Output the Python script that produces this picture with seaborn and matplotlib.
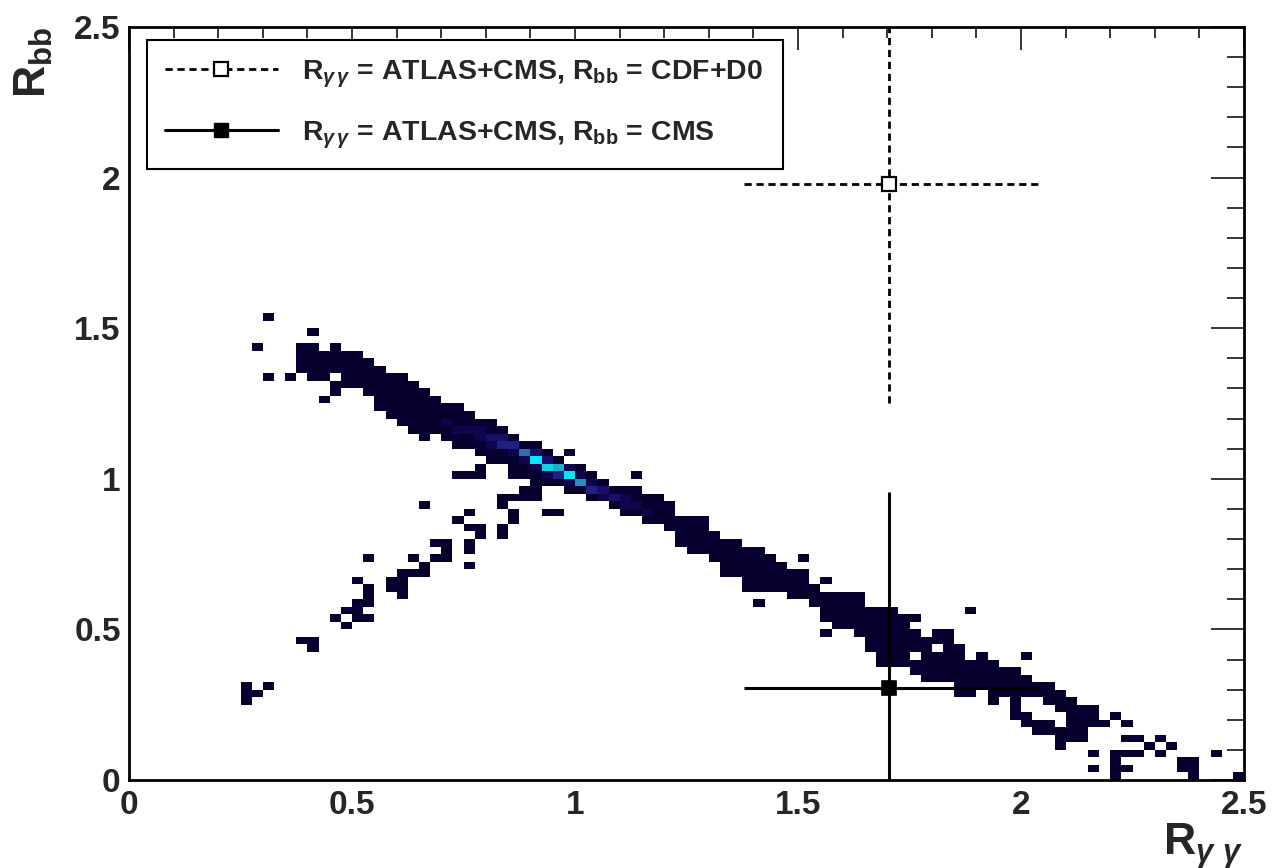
import numpy as np
import pandas as pd
import matplotlib
matplotlib.use("Agg")
import matplotlib.pyplot as plt
import seaborn as sns
from matplotlib.colors import LinearSegmentedColormap
from matplotlib.lines import Line2D
from matplotlib.ticker import MultipleLocator

# ---------------------------------------------------------------------------
# Scan of (R_gg, R_bb) values, binned in 0.025 x 0.025 cells (100 x 100 grid)
# ---------------------------------------------------------------------------
BIN = 0.025
N_BINS = 100

# Main diagonal band: for each R_gg bin, the lowest / highest filled R_bb bin
band_ix = list(range(15, 89))
band_lo = [54, 53, 53, 51, 52, 52, 51, 49, 48, 47,
           46, 45, 46, 45, 44, 44, 43, 42, 42, 40,
           40, 37, 39, 39, 38, 38, 37, 37, 36, 35,
           35, 34, 34, 33, 31, 30, 30, 29, 27, 27,
           25, 25, 25, 25, 24, 24, 23, 21, 20, 20,
           19, 17, 15, 15, 15, 14, 13, 13, 13, 11,
           11, 12, 10, 11, 8, 7, 6, 6, 4, 5,
           5, 7, 7, 8]
band_hi = [57, 57, 56, 57, 56, 56, 55, 54, 53, 53,
           52, 51, 50, 49, 49, 48, 47, 47, 46, 45,
           44, 44, 43, 42, 41, 41, 40, 39, 38, 38,
           38, 37, 37, 36, 34, 34, 34, 32, 31, 31,
           30, 30, 29, 28, 27, 27, 25, 24, 24, 24,
           24, 22, 22, 22, 21, 21, 18, 19, 19, 17,
           15, 16, 15, 14, 14, 13, 12, 12, 11, 10,
           9, 9, 7, 8]

# Empty bins inside the band
hole_ix = [18, 70, 70, 72, 80, 80, 81, 81, 81, 82, 82, 83, 83]
hole_iy = [53, 20, 16, 17, 9, 10, 8, 9, 10, 8, 9, 7, 8]

# Filled bins outside the band (second branch and scattered entries)
extra_ix = [12, 16, 11, 12, 14, 17,
            31, 29, 30, 31, 35, 33, 34, 35, 26, 33, 30, 34, 29, 34,
            30, 31, 33, 31, 33, 27, 28, 30, 28, 30, 21, 25, 27, 28,
            26, 30, 24, 25, 26, 20, 23, 24, 21, 23, 24, 21, 24, 20,
            21, 19, 20, 18, 20, 21, 19, 15, 16, 16, 10, 12, 10, 11, 10,
            39, 45, 37, 38, 60, 62, 56, 62, 75, 80,
            86, 86, 88, 88, 88, 88, 89, 89, 89, 89, 90, 90, 91, 92, 92,
            93, 94, 94, 95, 95, 95, 97, 99]
extra_iy = [61, 59, 57, 53, 53, 50,
            41, 40, 40, 40, 38, 37, 37, 37, 36, 36, 35, 35, 34, 34,
            33, 33, 33, 32, 32, 31, 31, 31, 30, 30, 29, 29, 29, 29,
            28, 28, 27, 27, 27, 26, 26, 26, 25, 25, 25, 24, 24, 23,
            23, 22, 22, 21, 21, 21, 20, 18, 18, 17, 12, 12, 11, 11, 10,
            43, 40, 35, 35, 29, 26, 23, 19, 22, 16,
            3, 1, 0, 1, 2, 3, 7, 5, 3, 1, 5, 3, 4, 5, 3,
            4, 1, 2, 0, 1, 2, 3, 0]

# Bins with more than one entry (the core of the band)
hot_ix = [36, 37, 38, 39, 40, 35, 33, 34, 32, 33, 38, 37, 36, 41, 42, 43,
          35, 36, 37, 39, 40, 41, 39, 42, 44, 44, 45, 46, 31, 30, 29, 28,
          32, 31, 34]
hot_iy = [42, 41, 41, 40, 39, 43, 44, 44, 45, 45, 40, 42, 43, 38, 38, 37,
          42, 41, 40, 41, 40, 39, 39, 37, 37, 36, 36, 35, 46, 46, 46, 47,
          44, 45, 43]
hot_n = [12, 11, 9, 12, 8, 7, 4, 4, 3, 3, 4, 3, 3, 4, 3, 3,
         2, 2, 2, 2, 2, 2, 2, 2, 2, 2, 2, 2, 2, 2, 2, 2,
         2, 2, 2]

# Two measured points: (R_gg, R_bb) with asymmetric errors
pt_rgg = [1.704, 1.704]
pt_rbb = [1.979, 0.305]
pt_rgg_lo = [0.325, 0.325]
pt_rgg_hi = [0.339, 0.339]
pt_rbb_lo = [0.727, 0.652]
pt_rbb_hi = [0.727, 0.652]
pt_labels = [r"$\mathbf{R}_{\gamma\,\gamma}$ = ATLAS+CMS, $\mathbf{R}_{\mathbf{bb}}$ = CDF+D0",
             r"$\mathbf{R}_{\gamma\,\gamma}$ = ATLAS+CMS, $\mathbf{R}_{\mathbf{bb}}$ = CMS"]

tick_vals = [0, 0.5, 1, 1.5, 2, 2.5]
tick_text = ["0", "0.5", "1", "1.5", "2", "2.5"]

# ---------------------------------------------------------------------------
# Assemble the histogram contents
# ---------------------------------------------------------------------------
cells = {}
for i, lo, hi in zip(band_ix, band_lo, band_hi):
    for j in range(lo, hi + 1):
        cells[(i, j)] = 1
for i, j in zip(hole_ix, hole_iy):
    cells.pop((i, j), None)
for i, j in zip(extra_ix, extra_iy):
    cells[(i, j)] = 1
for i, j, n in zip(hot_ix, hot_iy, hot_n):
    cells[(i, j)] = n

scan = pd.DataFrame(
    [((i + 0.5) * BIN, (j + 0.5) * BIN, n) for (i, j), n in cells.items()],
    columns=["R_gg", "R_bb", "entries"],
)

# ---------------------------------------------------------------------------
# Style
# ---------------------------------------------------------------------------
sns.set_theme(style="white")
plt.rcParams["font.family"] = ["Liberation Sans", "DejaVu Sans"]
plt.rcParams["font.weight"] = "bold"
plt.rcParams["mathtext.fontset"] = "custom"
plt.rcParams["mathtext.rm"] = "Liberation Sans:bold"
plt.rcParams["mathtext.bf"] = "Liberation Sans:bold"
plt.rcParams["mathtext.it"] = "Liberation Sans:italic"

palette = LinearSegmentedColormap.from_list(
    "navy_cyan",
    [(0.00, "#05002e"), (0.10, "#0f0650"), (0.20, "#1c1070"),
     (0.30, "#22288a"), (0.52, "#2e68a8"), (0.72, "#1fabc9"),
     (1.00, "#00e8f2")],
)

fig = plt.figure(figsize=(12.74, 8.68), dpi=100, facecolor="white")
ax = fig.add_axes([0.1013, 0.1014, 0.8752, 0.8675])

sns.histplot(
    data=scan, x="R_gg", y="R_bb", weights="entries",
    bins=N_BINS, binrange=((0, 2.5), (0, 2.5)),
    cmap=palette, vmin=1, vmax=12, cbar=False, ax=ax,
)

# Measured points with error bars
dotted = (0, (2.6, 1.7))
eb1 = ax.errorbar(
    pt_rgg[0], pt_rbb[0],
    xerr=[[pt_rgg_lo[0]], [pt_rgg_hi[0]]], yerr=[[pt_rbb_lo[0]], [pt_rbb_hi[0]]],
    fmt="s", ms=10.5, mfc="white", mec="black", mew=1.6,
    ecolor="black", elinewidth=2.0, capsize=0, zorder=5,
)
for coll in eb1[2]:
    coll.set_linestyle(dotted)
ax.errorbar(
    pt_rgg[1], pt_rbb[1],
    xerr=[[pt_rgg_lo[1]], [pt_rgg_hi[1]]], yerr=[[pt_rbb_lo[1]], [pt_rbb_hi[1]]],
    fmt="s", ms=10.5, mfc="black", mec="black", mew=1.2,
    ecolor="black", elinewidth=2.2, capsize=0, zorder=5,
)

# Axes, ticks, labels
ax.set_xlim(0, 2.5)
ax.set_ylim(0, 2.5)
ax.set_xticks(tick_vals)
ax.set_xticklabels(tick_text)
ax.set_yticks(tick_vals)
ax.set_yticklabels(tick_text)
ax.xaxis.set_minor_locator(MultipleLocator(0.1))
ax.yaxis.set_minor_locator(MultipleLocator(0.1))
ax.tick_params(which="both", direction="in", top=True, right=True,
               color="black", width=1.1)
ax.tick_params(axis="x", which="major", length=16.5, labelsize=24, pad=7)
ax.tick_params(axis="x", which="minor", length=8.2)
ax.tick_params(axis="y", which="major", length=24, labelsize=24, pad=6)
ax.tick_params(axis="y", which="minor", length=12)
for lab in ax.get_xticklabels() + ax.get_yticklabels():
    lab.set_fontweight("bold")
for sp in ax.spines.values():
    sp.set_visible(True)
    sp.set_color("black")
    sp.set_linewidth(2.0)
ax.grid(False)

ax.set_xlabel(r"$\mathbf{R}_{\gamma\ \gamma}$", fontsize=32, ha="right")
ax.xaxis.set_label_coords(0.999, -0.054)
ax.set_ylabel(r"$\mathbf{R}_{\mathbf{bb}}$", fontsize=32, ha="right")
ax.yaxis.set_label_coords(-0.066, 1.0)

# Legend
handles = [
    Line2D([], [], color="black", ls=dotted, lw=2.0, marker="s", ms=10,
           mfc="white", mec="black", mew=1.6),
    Line2D([], [], color="black", ls="-", lw=2.2, marker="s", ms=10,
           mfc="black", mec="black"),
]
leg = ax.legend(
    handles, pt_labels, loc="upper left",
    bbox_to_anchor=(0.0161, 0.8154, 0.5704, 0.1673), mode="expand",
    borderaxespad=0, handlelength=3.95, handletextpad=0.85,
    labelspacing=1.05, borderpad=0.64, numpoints=1,
    fancybox=False, framealpha=1, edgecolor="black",
    prop={"weight": "bold", "size": 20.5},
)
leg.get_frame().set_linewidth(1.5)

fig.savefig("out.png", dpi=100, facecolor="white")
